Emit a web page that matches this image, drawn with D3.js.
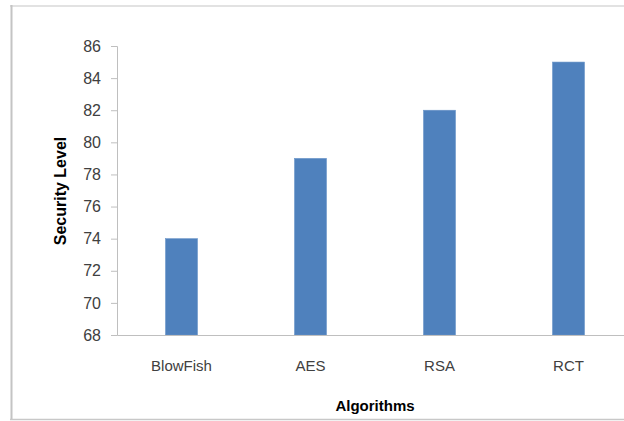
<!DOCTYPE html>
<html>
<head>
<meta charset="utf-8">
<script src="https://cdn.jsdelivr.net/npm/d3@7/dist/d3.min.js"></script>
<style>
  html, body { margin: 0; padding: 0; background: #fff; }
  svg { display: block; }
  text { font-family: "Liberation Sans", Arial, sans-serif; }
</style>
</head>
<body>
<svg id="chart" width="624" height="421"></svg>
<script>
const categories = ["BlowFish", "AES", "RSA", "RCT"];
const values = [74, 79, 82, 85];
const yTicks = [68, 70, 72, 74, 76, 78, 80, 82, 84, 86];
const xTitle = "Algorithms";
const yTitle = "Security Level";

const svg = d3.select("#chart");

// outer frame
svg.append("line").attr("x1", 10).attr("x2", 624).attr("y1", 6).attr("y2", 6)
  .attr("stroke", "#d9d9d9").attr("stroke-width", 1.5);
svg.append("line").attr("x1", 11.5).attr("x2", 11.5).attr("y1", 5).attr("y2", 420)
  .attr("stroke", "#c4c4c4").attr("stroke-width", 2);
svg.append("line").attr("x1", 10).attr("x2", 624).attr("y1", 419.5).attr("y2", 419.5)
  .attr("stroke", "#c8c8c8").attr("stroke-width", 1.5);

const plotLeft = 117, plotRight = 633, plotTop = 46, plotBottom = 335;

const x = d3.scaleBand().domain(categories).range([plotLeft, plotRight])
  .paddingInner(0.752).paddingOuter(0.376);
const y = d3.scaleLinear().domain([68, 86]).range([plotBottom, plotTop]);

// bars
svg.append("g").selectAll("rect").data(values).join("rect")
  .attr("x", (d, i) => x(categories[i]))
  .attr("y", d => y(d))
  .attr("width", x.bandwidth())
  .attr("height", d => y(68) - y(d))
  .attr("fill", "#4f81bd")
  .attr("stroke", "#6a95c8")
  .attr("stroke-width", 0.6);

// y axis
const yAxis = svg.append("g").attr("transform", `translate(${plotLeft},0)`)
  .call(d3.axisLeft(y).tickValues(yTicks).tickSize(6).tickPadding(10).tickFormat(d3.format("d")));
yAxis.select(".domain").attr("stroke", "#bfbfbf");
yAxis.selectAll(".tick line").attr("stroke", "#bfbfbf");
yAxis.selectAll(".tick text").attr("fill", "#404040")
  .style("font-size", "16px").style("font-family", "Liberation Sans, Arial, sans-serif");

// x axis
const xAxis = svg.append("g").attr("transform", `translate(0,${plotBottom})`)
  .call(d3.axisBottom(x).tickSize(0).tickPadding(25));
xAxis.select(".domain").attr("stroke", "#bfbfbf");
xAxis.selectAll(".tick text").attr("fill", "#404040")
  .style("font-size", "15px").style("font-family", "Liberation Sans, Arial, sans-serif");

// titles
svg.append("text").attr("x", (plotLeft + plotRight) / 2).attr("y", 411)
  .attr("text-anchor", "middle").attr("font-weight", "bold")
  .style("font-size", "15px").attr("fill", "#000").text(xTitle);
svg.append("text").attr("transform", `translate(66,191) rotate(-90)`)
  .attr("text-anchor", "middle").attr("font-weight", "bold")
  .style("font-size", "16px").attr("fill", "#000").text(yTitle);
</script>
</body>
</html>
